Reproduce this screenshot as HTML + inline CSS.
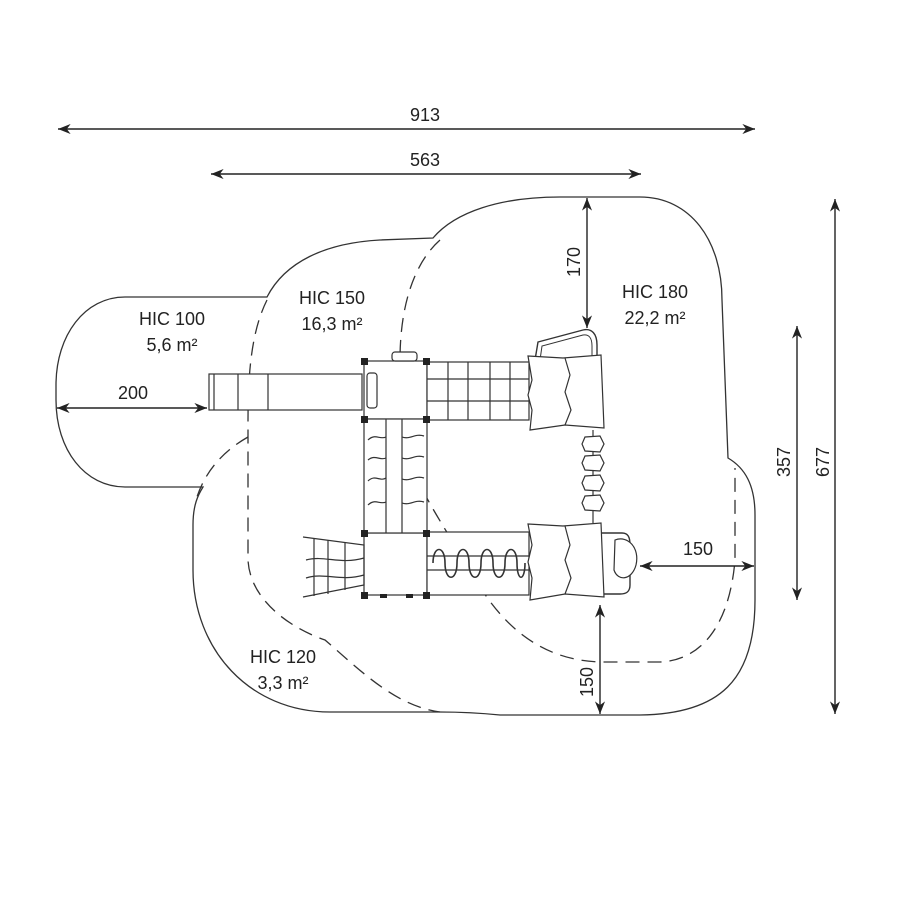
<!DOCTYPE html>
<html><head><meta charset="utf-8"><style>html,body{margin:0;padding:0;background:#fff}svg{display:block}text{font-family:"Liberation Sans",sans-serif;fill:#222}</style></head>
<body>
<svg width="900" height="900" viewBox="0 0 900 900" xmlns="http://www.w3.org/2000/svg">
<defs>
<marker id="a" viewBox="0 0 10 10" refX="10" refY="5" markerWidth="9" markerHeight="9" orient="auto-start-reverse"><path d="M0,1 L10,5 L0,9 L3,5 Z" fill="#222"/></marker>
</defs>
<g fill="none" stroke="#333" stroke-width="1.3">
<path d="M125,297 L267,297 C285,262 325,243 380,240 L433,238 C455,212 500,197 560,197 L640,197 C690,197 722,240 722,300 L728,458 C745,468 755,485 755,515 L755,600 C755,680 720,714 640,715 L500,715 C480,713 460,712 440,712 L330,712 C250,712 193,650 193,570 L193,525 C193,505 198,495 203,487 L125,487 C85,487 56,450 56,400 L56,385 C56,335 85,297 125,297 Z"/>
</g>
<g fill="none" stroke="#333" stroke-width="1.3" stroke-dasharray="14,8">
<path d="M267,300 C252,330 248,370 248,420 L248,560 C250,600 290,628 325,640 C360,670 395,706 440,712"/>
<path d="M248,437 C225,450 205,470 196,500"/>
<path d="M440,240 C412,265 400,310 400,360 L402,430 C405,470 440,520 470,570 C500,625 540,660 600,662 L660,662 C705,660 730,620 735,560 L735,468"/>
</g>
<g stroke="#222" stroke-width="1.4" fill="none">
<line x1="58" y1="129" x2="755" y2="129" marker-start="url(#a)" marker-end="url(#a)"/>
<line x1="211" y1="174" x2="641" y2="174" marker-start="url(#a)" marker-end="url(#a)"/>
<line x1="835" y1="199" x2="835" y2="714" marker-start="url(#a)" marker-end="url(#a)"/>
<line x1="797" y1="326" x2="797" y2="600" marker-start="url(#a)" marker-end="url(#a)"/>
<line x1="587" y1="198" x2="587" y2="328" marker-start="url(#a)" marker-end="url(#a)"/>
<line x1="600" y1="605" x2="600" y2="714" marker-start="url(#a)" marker-end="url(#a)"/>
<line x1="640" y1="566" x2="754" y2="566" marker-start="url(#a)" marker-end="url(#a)"/>
<line x1="57" y1="408" x2="207" y2="408" marker-start="url(#a)" marker-end="url(#a)"/>
</g>
<g font-size="18" text-anchor="middle">
<text x="425" y="121">913</text>
<text x="425" y="166">563</text>
<text x="133" y="399">200</text>
<text x="698" y="555">150</text>
<text transform="translate(829,462) rotate(-90)">677</text>
<text transform="translate(790,462) rotate(-90)">357</text>
<text transform="translate(580,262) rotate(-90)">170</text>
<text transform="translate(593,682) rotate(-90)">150</text>
<text x="172" y="325">HIC 100</text><text x="172" y="351">5,6 m²</text>
<text x="332" y="304">HIC 150</text><text x="332" y="330">16,3 m²</text>
<text x="655" y="298">HIC 180</text><text x="655" y="324">22,2 m²</text>
<text x="283" y="663">HIC 120</text><text x="283" y="689">3,3 m²</text>
</g>
<g fill="#fff" stroke="#333" stroke-width="1.2">
<rect x="209" y="374" width="153" height="36"/>
<line x1="214" y1="374" x2="214" y2="410"/><line x1="238" y1="374" x2="238" y2="410"/><line x1="268" y1="374" x2="268" y2="410"/>
<rect x="364" y="361" width="63" height="58"/>
<rect x="367" y="373" width="10" height="35" rx="3"/>
<rect x="392" y="352" width="25" height="9" rx="3"/>
<rect x="364" y="533" width="63" height="62"/>
<rect x="364" y="419" width="63" height="114"/>
<line x1="386" y1="419" x2="386" y2="533"/><line x1="402" y1="419" x2="402" y2="533"/>
<path d="M368,440 C375,433 380,440 386,437 M368,460 C375,454 380,461 386,458 M368,481 C375,474 380,482 386,478 M368,505 C375,498 380,505 386,502 M402,437 C410,440 415,433 424,436 M402,458 C410,461 415,454 424,457 M402,479 C410,482 415,475 424,478 M402,503 C410,506 415,499 424,502" fill="none"/>
<rect x="427" y="362" width="102" height="58"/>
<path d="M427,379 H529 M427,401 H529 M448,362 V420 M468,362 V420 M490,362 V420 M510,362 V420" fill="none"/>
<rect x="427" y="532" width="102" height="63"/>
<path d="M427,556 H529 M427,570 H529" fill="none"/>
<path d="M433,563 C433,545 445,545 445,563 C445,582 457,582 457,563 C457,545 469,545 469,563 C469,582 481,582 481,563 C481,545 493,545 493,563 C493,582 505,582 505,563 C505,545 517,545 517,563 C517,582 525,582 525,563" fill="none" stroke-width="1.6"/>
<path d="M303,537 L364,545 L364,585 L303,597 M314,538 L314,596 M328,540 L328,594 M345,542 L345,590 M306,560 C325,555 340,565 364,558 M306,578 C325,572 340,582 364,575" fill="none"/>
<path d="M535,360 L538,342 L583,330 C592,328 597,334 597,345 L597,360" fill="none" stroke-width="1.4"/>
<path d="M540,360 L542,346 L583,335 C589,334 592,338 592,346 L592,360" fill="none" stroke-width="1"/>
<path d="M600,533 L622,533 C628,533 630,537 630,545 L630,585 C630,592 626,594 620,594 L600,594" fill="none" stroke-width="1.4"/>
<path d="M615,540 C628,535 640,548 636,565 C632,580 618,582 614,570 Z"/>
<path d="M528,356 L563,358 L601,355 L604,428 L565,425 L530,430 L532,410 L528,395 L532,380 Z"/>
<path d="M565,358 L570,375 L565,392 L571,410 L565,425"/>
<path d="M528,524 L563,526 L601,523 L604,597 L565,594 L530,600 L532,578 L528,562 L532,545 Z"/>
<path d="M565,526 L570,545 L565,560 L571,578 L565,594"/>
<line x1="593" y1="430" x2="593" y2="523"/>
<path d="M585,437 L600,436 L604,444 L600,452 L585,451 L582,444 Z"/>
<path d="M585,456 L600,455 L604,463 L600,471 L585,470 L582,463 Z"/>
<path d="M585,476 L600,475 L604,483 L600,491 L585,490 L582,483 Z"/>
<path d="M585,496 L600,495 L604,503 L600,511 L585,510 L582,503 Z"/>
</g>
<g fill="#222">
<rect x="361" y="358" width="7" height="7"/><rect x="423" y="358" width="7" height="7"/>
<rect x="361" y="416" width="7" height="7"/><rect x="423" y="416" width="7" height="7"/>
<rect x="361" y="530" width="7" height="7"/><rect x="423" y="530" width="7" height="7"/>
<rect x="361" y="592" width="7" height="7"/><rect x="423" y="592" width="7" height="7"/>
<rect x="380" y="594" width="7" height="4"/><rect x="406" y="594" width="7" height="4"/>
</g>
</svg>
</body></html>
